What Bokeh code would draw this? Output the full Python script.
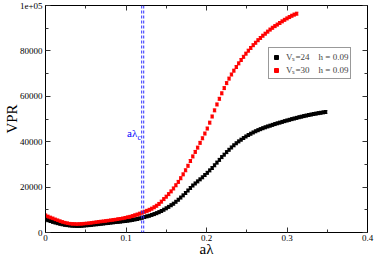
import pandas as pd
from bokeh.plotting import figure
from bokeh.models import (ColumnDataSource, Whisker, TeeHead, Span, Label, Legend, LegendItem,
                          FixedTicker, LinearAxis, Range1d)
from bokeh.embed import file_html
from bokeh.resources import INLINE

# ---------------- data ----------------
x_black = [0.000, 0.003, 0.006, 0.009, 0.012, 0.015, 0.018, 0.021, 0.024, 0.027,
           0.030, 0.033, 0.036, 0.039, 0.042, 0.045, 0.048, 0.051, 0.054, 0.057,
           0.060, 0.063, 0.066, 0.069, 0.072, 0.075, 0.078, 0.081, 0.084, 0.087,
           0.090, 0.093, 0.096, 0.099, 0.102, 0.105, 0.108, 0.111, 0.114, 0.117,
           0.120, 0.123, 0.126, 0.129, 0.132, 0.135, 0.138, 0.141, 0.144, 0.147,
           0.150, 0.153, 0.156, 0.159, 0.162, 0.165, 0.168, 0.171, 0.174, 0.177,
           0.180, 0.183, 0.186, 0.189, 0.192, 0.195, 0.198, 0.201, 0.204, 0.207,
           0.210, 0.213, 0.216, 0.219, 0.222, 0.225, 0.228, 0.231, 0.234, 0.237,
           0.240, 0.243, 0.246, 0.249, 0.252, 0.255, 0.258, 0.261, 0.264, 0.267,
           0.270, 0.273, 0.276, 0.279, 0.282, 0.285, 0.288, 0.291, 0.294, 0.297,
           0.300, 0.303, 0.306, 0.309, 0.312, 0.315, 0.318, 0.321, 0.324, 0.327,
           0.330, 0.333, 0.336, 0.339, 0.342, 0.345, 0.348]
vpr_black = [5800, 5400, 5050, 4700, 4400, 4100, 3850, 3600, 3400, 3250,
             3100, 3000, 2950, 2900, 2900, 2950, 3050, 3150, 3250, 3350,
             3500, 3600, 3700, 3850, 3950, 4100, 4200, 4350, 4450, 4600,
             4700, 4800, 4950, 5050, 5200, 5350, 5550, 5750, 5950, 6200,
             6500, 6800, 7100, 7400, 7750, 8100, 8500, 8950, 9450, 10050,
             10650, 11300, 12000, 12700, 13550, 14450, 15400, 16350, 17400, 18500,
             19600, 20700, 21600, 22500, 23400, 24300, 25300, 26300, 27350, 28400,
             29600, 30800, 32000, 33200, 34300, 35400, 36450, 37450, 38400, 39300,
             40120, 40900, 41620, 42300, 42930, 43520, 44070, 44580, 45060, 45510,
             45930, 46330, 46710, 47070, 47420, 47760, 48090, 48410, 48730, 49040,
             49350, 49650, 49940, 50220, 50500, 50770, 51030, 51280, 51520, 51750,
             51970, 52180, 52380, 52570, 52750, 52920, 53080]

x_red = [0.000, 0.003, 0.006, 0.009, 0.012, 0.015, 0.018, 0.021, 0.024, 0.027,
         0.030, 0.033, 0.036, 0.039, 0.042, 0.045, 0.048, 0.051, 0.054, 0.057,
         0.060, 0.063, 0.066, 0.069, 0.072, 0.075, 0.078, 0.081, 0.084, 0.087,
         0.090, 0.093, 0.096, 0.099, 0.102, 0.105, 0.108, 0.111, 0.114, 0.117,
         0.120, 0.123, 0.126, 0.129, 0.132, 0.135, 0.138, 0.141, 0.144, 0.147,
         0.150, 0.153, 0.156, 0.159, 0.162, 0.165, 0.168, 0.171, 0.174, 0.177,
         0.180, 0.183, 0.186, 0.189, 0.192, 0.195, 0.198, 0.201, 0.204, 0.207,
         0.210, 0.213, 0.216, 0.219, 0.222, 0.225, 0.228, 0.231, 0.234, 0.237,
         0.240, 0.243, 0.246, 0.249, 0.252, 0.255, 0.258, 0.261, 0.264, 0.267,
         0.270, 0.273, 0.276, 0.279, 0.282, 0.285, 0.288, 0.291, 0.294, 0.297,
         0.300, 0.303, 0.306, 0.309, 0.312]
vpr_red = [7500, 7000, 6550, 6150, 5700, 5300, 4900, 4550, 4250, 4000,
           3800, 3700, 3650, 3600, 3650, 3700, 3800, 3900, 4000, 4150,
           4300, 4450, 4600, 4750, 4850, 5000, 5150, 5300, 5450, 5600,
           5800, 5950, 6150, 6400, 6650, 6900, 7200, 7550, 7900, 8300,
           8750, 9150, 9550, 10000, 10500, 11100, 11800, 12600, 13600, 14700,
           15800, 16900, 18100, 19400, 20800, 22300, 23900, 25600, 27400, 29400,
           31500, 33500, 35500, 37400, 39500, 41500, 43600, 45800, 48400, 51100,
           53800, 56400, 58900, 61300, 63600, 65800, 67800, 69600, 71300, 72900,
           74500, 76000, 77400, 78800, 80100, 81300, 82500, 83600, 84700, 85700,
           86700, 87600, 88500, 89400, 90200, 90900, 91600, 92300, 93000, 93700,
           94300, 94900, 95500, 96000, 96400]

err_black = 650
err_red = 650

a_lambda_c = [0.1195, 0.122]

series_labels = ["V\u209b=24\u2003h = 0.09", "V\u209b=30\u2003h = 0.09"]

x_ticks = [0, 0.1, 0.2, 0.3, 0.4]
x_tick_labels = ["0", "0.1", "0.2", "0.3", "0.4"]
x_minor = [0.05, 0.15, 0.25, 0.35]
y_ticks = [0, 20000, 40000, 60000, 80000, 100000]
y_tick_labels = ["0", "20000", "40000", "60000", "80000", "1e+05"]
y_minor = [10000, 30000, 50000, 70000, 90000]

# ---------------- figure ----------------
FONT = "Liberation Serif"

p = figure(width=374, height=259, output_backend="svg", toolbar_location=None,
           x_range=Range1d(0, 0.4), y_range=Range1d(0, 100000),
           min_border_left=40, min_border_right=7, min_border_top=5, min_border_bottom=26)
p.background_fill_color = "white"
p.border_fill_color = "white"
p.outline_line_color = "black"
p.outline_line_width = 1
p.xgrid.visible = False
p.ygrid.visible = False

xt = FixedTicker(ticks=x_ticks, minor_ticks=x_minor)
yt = FixedTicker(ticks=y_ticks, minor_ticks=y_minor)

bottom_axis = p.below[0]
left_axis = p.left[0]
top_axis = LinearAxis(ticker=xt)
right_axis = LinearAxis(ticker=yt)
p.add_layout(top_axis, "above")
p.add_layout(right_axis, "right")

bottom_axis.ticker = xt
left_axis.ticker = yt
bottom_axis.major_label_overrides = dict(zip(x_ticks, x_tick_labels))
left_axis.major_label_overrides = dict(zip(y_ticks, y_tick_labels))
top_axis.major_label_overrides = {t: "" for t in x_ticks}
right_axis.major_label_overrides = {t: "" for t in y_ticks}

for ax in [bottom_axis, left_axis, top_axis, right_axis]:
    ax.axis_line_color = "black"
    ax.major_tick_line_color = "#333333"
    ax.minor_tick_line_color = "#333333"
    ax.major_tick_in = 5
    ax.major_tick_out = 0
    ax.minor_tick_in = 3
    ax.minor_tick_out = 0
    ax.major_label_text_font = FONT
    ax.major_label_text_font_size = "9px"
    ax.major_label_text_color = "black"
    ax.major_label_standoff = 3
for ax in [top_axis, right_axis]:
    ax.major_label_text_font_size = "1px"
    ax.major_label_standoff = 0
bottom_axis.major_label_standoff = 2

bottom_axis.axis_label = "a\u03bb"
left_axis.axis_label = "VPR"
for ax in [bottom_axis, left_axis]:
    ax.axis_label_text_font = FONT
    ax.axis_label_text_font_size = "15px"
    ax.axis_label_text_font_style = "normal"
    ax.axis_label_text_color = "black"
bottom_axis.axis_label_standoff = -3
left_axis.axis_label_standoff = -3

# ---------------- series ----------------
src_b = ColumnDataSource(pd.DataFrame({"x": x_black, "y": vpr_black}))
src_b.data["lower"] = [v - err_black for v in vpr_black]
src_b.data["upper"] = [v + err_black for v in vpr_black]
src_r = ColumnDataSource(pd.DataFrame({"x": x_red, "y": vpr_red}))
src_r.data["lower"] = [v - err_red for v in vpr_red]
src_r.data["upper"] = [v + err_red for v in vpr_red]

for src, col in [(src_b, "black"), (src_r, "red")]:
    w = Whisker(source=src, base="x", lower="lower", upper="upper", line_color=col, line_width=1,
                upper_head=TeeHead(size=3.5, line_color=col, line_width=1),
                lower_head=TeeHead(size=3.5, line_color=col, line_width=1))
    p.add_layout(w)

rb = p.scatter("x", "y", source=src_b, marker="square", size=2.2, color="black")
rr = p.scatter("x", "y", source=src_r, marker="square", size=2.2, color="red")

# a lambda_c dashed lines
for loc in a_lambda_c:
    p.add_layout(Span(location=loc, dimension="height", line_color="#3030ff",
                      line_dash="3 2", line_width=1))

p.add_layout(Label(x=0.1140, y=43900, text="a\u03bb", text_align="right",
                   text_baseline="alphabetic", text_font=FONT, text_font_size="11px",
                   text_color="blue"))
p.add_layout(Label(x=0.1143, y=42000, text="c", text_align="left",
                   text_baseline="alphabetic", text_font=FONT, text_font_size="8px",
                   text_color="blue"))

# legend
legend = Legend(items=[LegendItem(label=series_labels[0], renderers=[rb]),
                       LegendItem(label=series_labels[1], renderers=[rr])],
                location=(223, 153))
legend.border_line_color = "#333333"
legend.border_line_width = 1
legend.background_fill_color = "white"
legend.background_fill_alpha = 1
legend.label_text_font = FONT
legend.label_text_font_size = "9px"
legend.glyph_width = 10
legend.glyph_height = 10
legend.label_height = 10
legend.label_standoff = 5
legend.padding = 2
legend.spacing = 0
legend.margin = 0
p.add_layout(legend)

open("out.html", "w").write(file_html(p, INLINE))
